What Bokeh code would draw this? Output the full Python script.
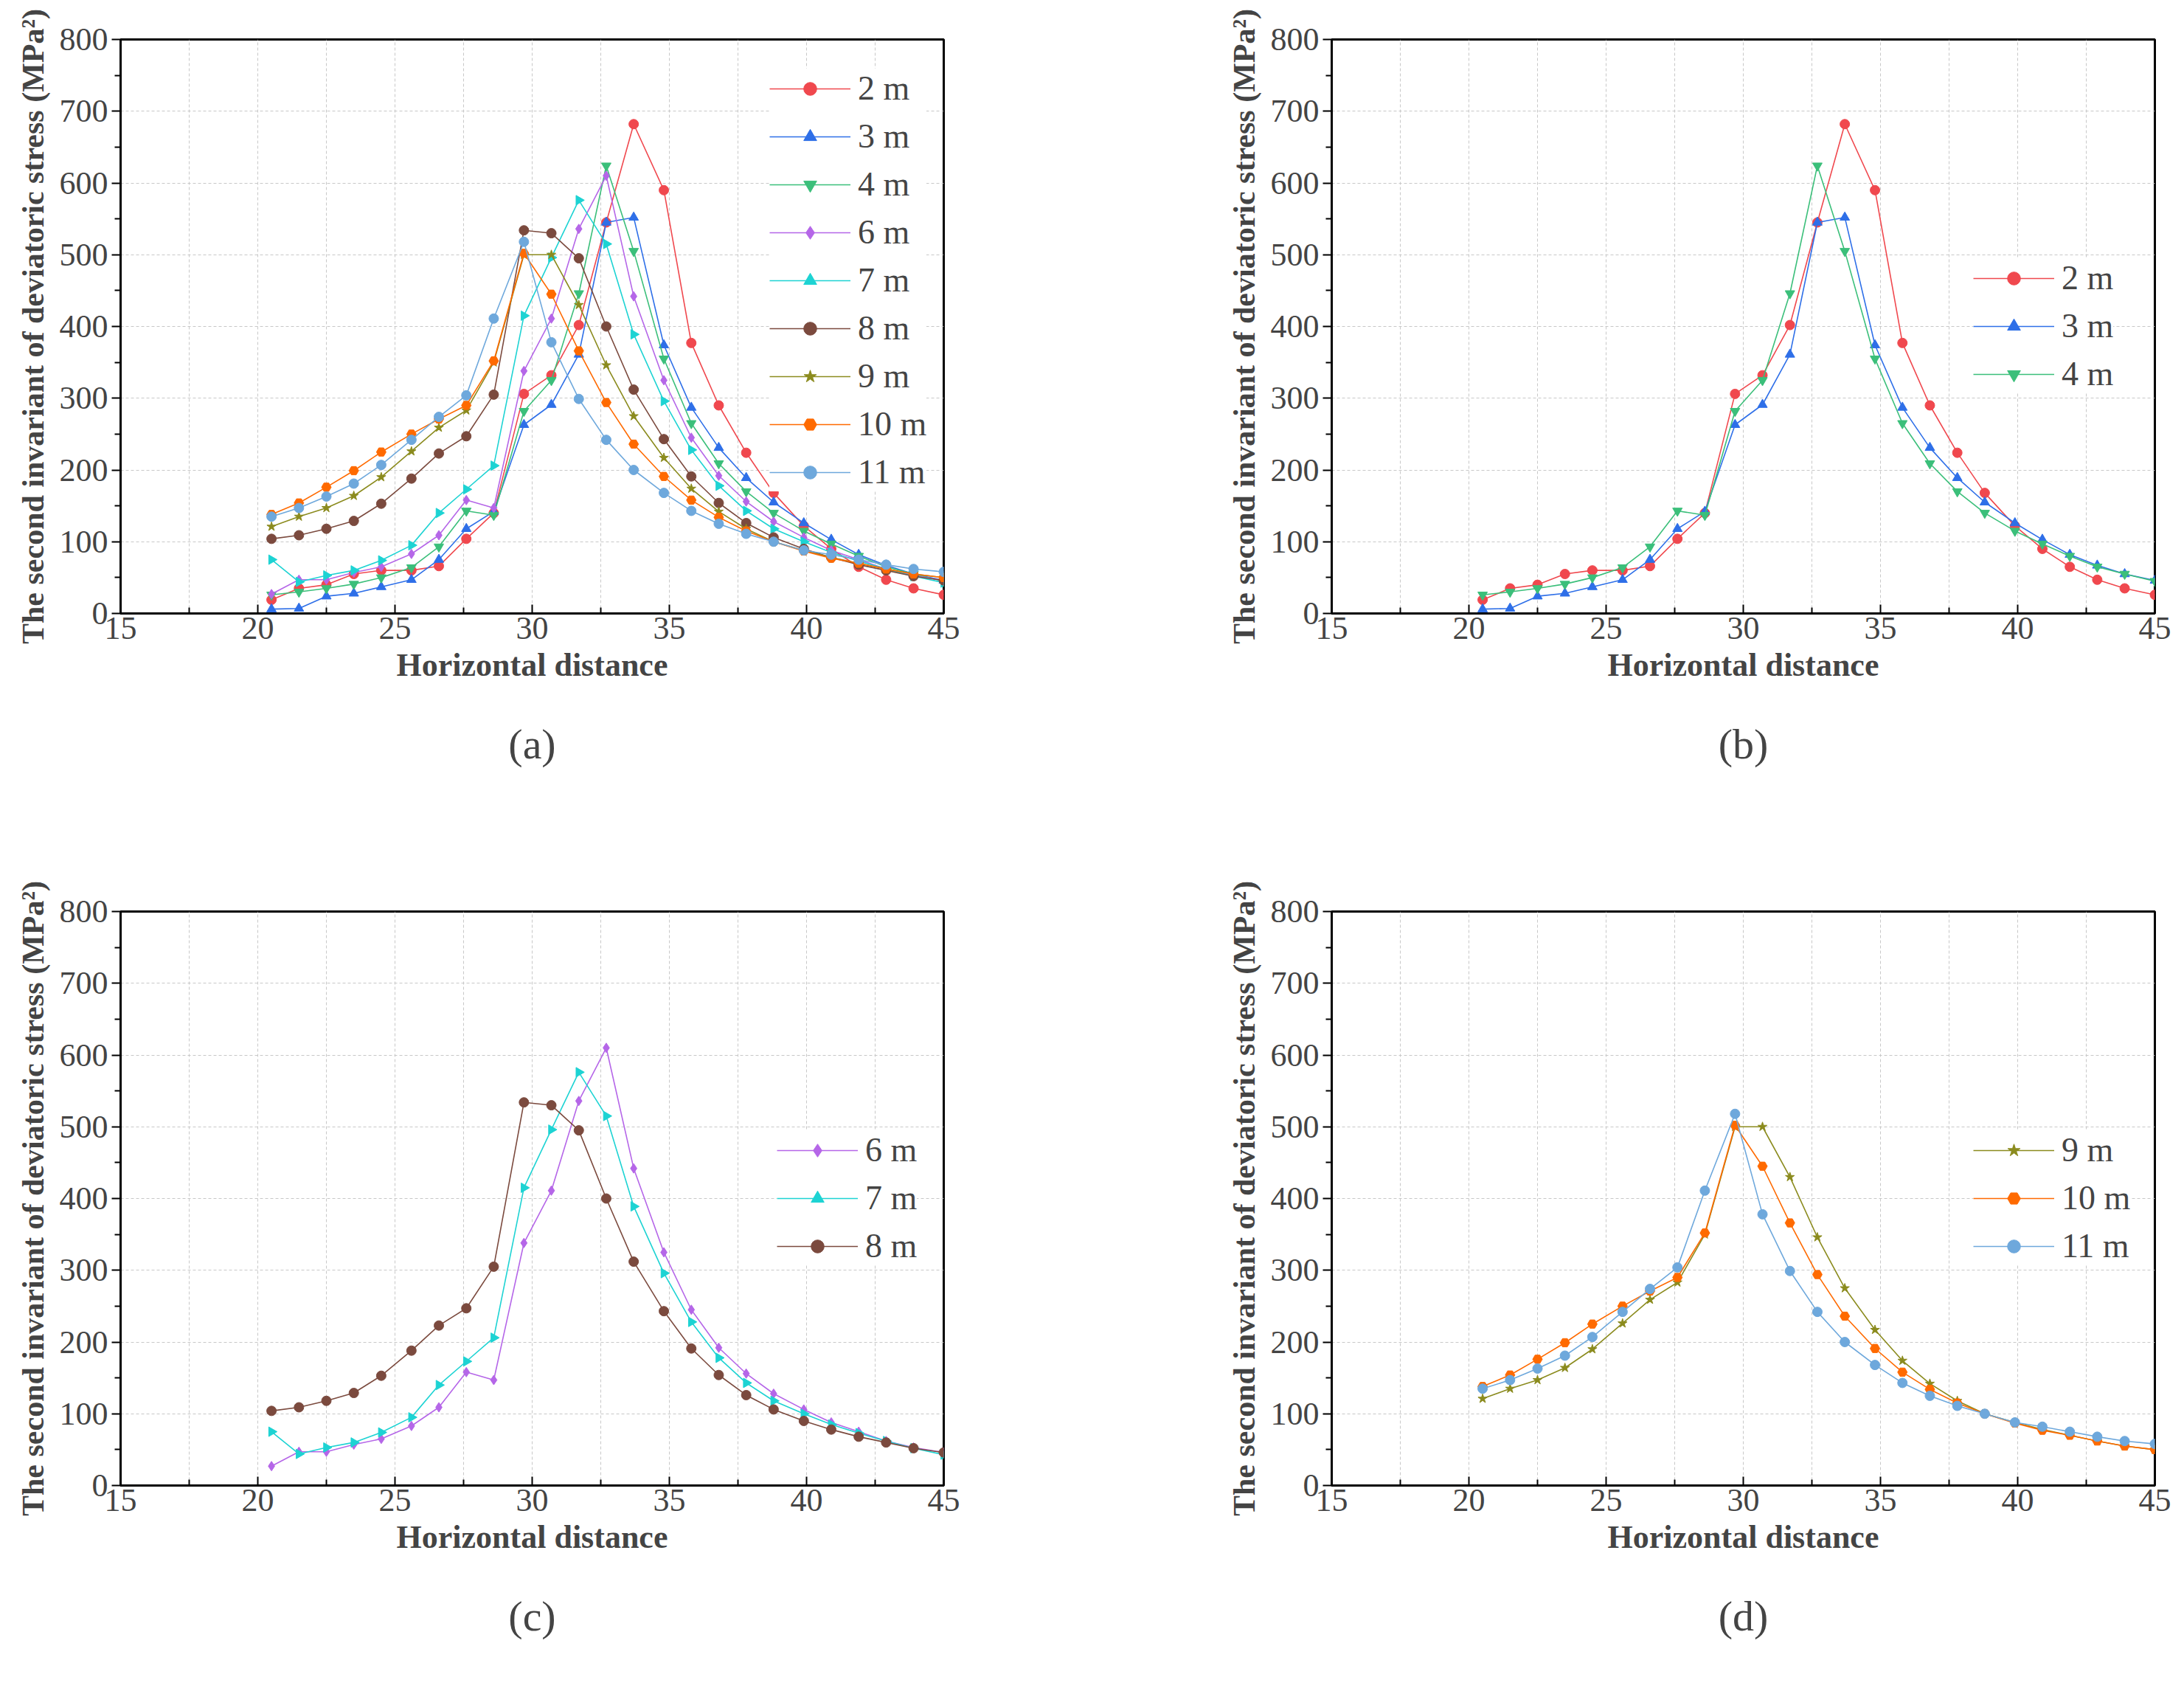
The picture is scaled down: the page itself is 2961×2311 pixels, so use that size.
import math
from bokeh.plotting import figure
from bokeh.layouts import gridplot
from bokeh.models import Title, Legend, LegendItem, FixedTicker
from bokeh.embed import file_html
from bokeh.resources import INLINE

x = [20.5, 21.5, 22.5, 23.5, 24.5, 25.6, 26.6, 27.6, 28.6, 29.7, 30.7, 31.7, 32.7,
     33.7, 34.8, 35.8, 36.8, 37.8, 38.8, 39.9, 40.9, 41.9, 42.9, 43.9, 45.0]
s2 = [19, 35, 40, 55, 60, 60, 66, 104, 140, 306, 332, 402, 545, 682, 590, 377, 290, 224, 168, 122, 90, 65, 47, 35, 26]
s3 = [6, 7, 24, 28, 37, 47, 75, 118, 142, 263, 291, 361, 545, 552, 374, 287, 231, 189, 155, 126, 103, 82, 67, 55, 46]
s4 = [26, 30, 35, 41, 50, 64, 93, 143, 137, 282, 325, 446, 624, 505, 355, 265, 209, 170, 140, 115, 97, 80, 65, 55, 45]
s6 = [27, 47, 47, 57, 65, 83, 109, 158, 147, 338, 411, 536, 610, 442, 325, 245, 192, 156, 128, 106, 88, 75, 62, 53, 46]
s7 = [75, 44, 53, 60, 74, 95, 140, 173, 206, 415, 496, 576, 515, 389, 296, 228, 178, 143, 118, 100, 85, 73, 62, 52, 43]
s8 = [104, 109, 118, 129, 153, 188, 223, 247, 305, 534, 530, 495, 400, 312, 243, 191, 154, 126, 106, 90, 78, 68, 60, 52, 46]
s9 = [121, 135, 147, 164, 190, 226, 259, 283, 350, 500, 500, 430, 346, 275, 217, 174, 142, 118, 100, 88, 78, 70, 62, 55, 50]
s10 = [138, 154, 176, 199, 225, 250, 271, 290, 352, 502, 445, 366, 294, 236, 191, 158, 134, 115, 100, 87, 77, 70, 62, 55, 50]
s11 = [135, 147, 163, 181, 207, 242, 274, 304, 411, 518, 378, 299, 242, 200, 168, 143, 125, 111, 100, 88, 82, 75, 68, 62, 58]

SERIES = {
    "2 m": (s2, "#F0484E", "circle", 0),
    "3 m": (s3, "#2E6FE8", "triangle", 0),
    "4 m": (s4, "#3BBF7A", "inverted_triangle", 0),
    "6 m": (s6, "#B566E8", "diamond", 0),
    "7 m": (s7, "#1DD3D3", "triangle", -90),
    "8 m": (s8, "#7B4A3E", "circle", 0),
    "9 m": (s9, "#8B8B1E", "star", 0),
    "10 m": (s10, "#FF6A00", "hex", 0),
    "11 m": (s11, "#6EA8DC", "circle", 0),
}
FONT = "Liberation Serif"


def panel(names, cap, lb, rb, tb, bb, w, h, leg_loc):
    p = figure(width=w, height=h, x_range=(15, 45), y_range=(0, 800),
               output_backend="svg", toolbar_location=None,
               min_border_left=lb, min_border_right=rb, min_border_top=tb, min_border_bottom=bb)
    items = []
    for n in names:
        ys, c, m, ang = SERIES[n]
        r1 = p.line(x, ys, line_color=c, line_width=1.6)
        r2 = p.scatter(x, ys, marker=m, angle=ang, angle_units="deg", size=13,
                       fill_color=c, line_color=c)
        items.append(LegendItem(label=n, renderers=[r1, r2]))
    leg = Legend(items=items, location=leg_loc, border_line_color=None,
                 background_fill_alpha=1, label_text_font=FONT, label_text_font_size="46px",
                 glyph_width=110, glyph_height=44, spacing=12, padding=4, label_standoff=10,
                 label_height=44)
    p.add_layout(leg)
    p.xaxis.ticker = FixedTicker(ticks=[15, 20, 25, 30, 35, 40, 45],
                                 minor_ticks=[17.5, 22.5, 27.5, 32.5, 37.5, 42.5])
    p.yaxis.ticker = FixedTicker(ticks=list(range(0, 801, 100)),
                                 minor_ticks=list(range(50, 800, 100)))
    for ax in (p.xaxis[0], p.yaxis[0]):
        ax.axis_line_width = 3
        ax.major_tick_line_width = 2
        ax.minor_tick_line_width = 2
        ax.major_label_text_font = FONT
        ax.major_label_text_font_size = "44px"
        ax.axis_label_text_font = FONT
        ax.axis_label_text_font_style = "bold"
    p.xaxis.major_tick_in = 12
    p.xaxis.major_tick_out = 0
    p.xaxis.minor_tick_in = 8
    p.xaxis.minor_tick_out = 0
    p.yaxis.major_tick_in = 0
    p.yaxis.major_tick_out = 12
    p.yaxis.minor_tick_in = 0
    p.yaxis.minor_tick_out = 8
    p.xaxis.axis_label = "Horizontal distance"
    p.xaxis.axis_label_text_font_size = "44px"
    p.yaxis.axis_label = "The second invariant of deviatoric stress (MPa\u00b2)"
    p.yaxis.axis_label_text_font_size = "42px"
    p.yaxis.axis_label_standoff = 10
    p.xaxis.axis_label_standoff = 8
    p.outline_line_color = "black"
    p.outline_line_width = 3
    p.xgrid.grid_line_color = "#C8C8C8"
    p.xgrid.grid_line_dash = "4 3"
    p.xgrid.minor_grid_line_color = "#C8C8C8"
    p.xgrid.minor_grid_line_dash = "4 3"
    p.ygrid.grid_line_color = "#C8C8C8"
    p.ygrid.grid_line_dash = "4 3"
    p.add_layout(Title(text=cap, text_font=FONT, text_font_size="58px",
                       text_font_style="normal", align="center", offset=0, standoff=90), "below")
    return p


pa = panel(["2 m", "3 m", "4 m", "6 m", "7 m", "8 m", "9 m", "10 m", "11 m"], "(a)",
           163, 193, 53, 321, 1472, 1152, (880, 165))
pb = panel(["2 m", "3 m", "4 m"], "(b)", 333, 23, 53, 321, 1472, 1152, (870, 298))
pc = panel(["6 m", "7 m", "8 m"], "(c)", 163, 193, 83, 279, 1472, 1140, (890, 298))
pd = panel(["9 m", "10 m", "11 m"], "(d)", 333, 23, 83, 279, 1472, 1140, (870, 298))

grid = gridplot([[pa, pb], [pc, pd]], toolbar_location=None)
open("out.html", "w").write(file_html(grid, INLINE))
